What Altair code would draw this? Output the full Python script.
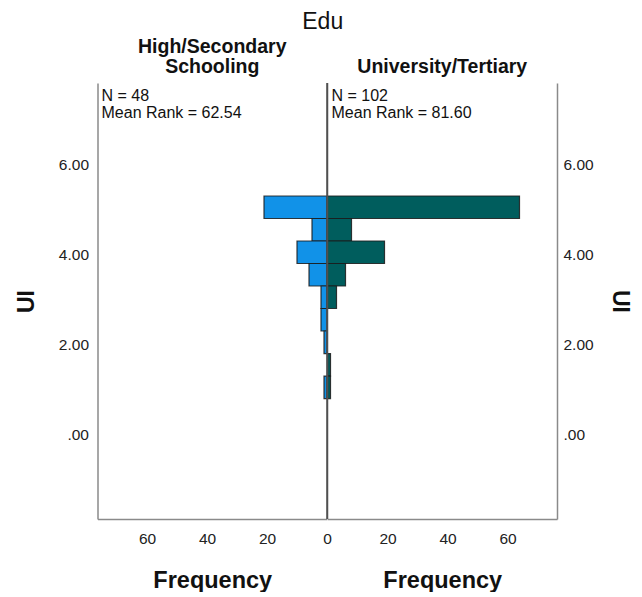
import altair as alt
import pandas as pd

# ---- data ----
bin_lo = [4.8, 4.3, 3.8, 3.3, 2.8, 2.3, 1.8, 1.3, 0.8]
bin_hi = [5.3, 4.8, 4.3, 3.8, 3.3, 2.8, 2.3, 1.8, 1.3]
high_counts = [21, 5, 10, 6, 2, 2, 1, 0, 1]
univ_counts = [64, 8, 19, 6, 3, 0, 0, 1, 1]
group_titles = [["High/Secondary", "Schooling"], ["University/Tertiary"]]
n_values = [48, 102]
mean_ranks = ["62.54", "81.60"]
x_ticks_left = [0, 20, 40, 60]
x_ticks_right = [20, 40, 60]
y_ticks = [0, 2, 4, 6]

X_MAX = 76.5
Y_MIN, Y_MAX = -1.876, 7.81
FONT = "Liberation Sans"


def panel(counts, color, reverse, y_orient, title_lines, n, mr, x_ticks,
          label_pad, title_pad):
    df = pd.DataFrame({"lo": bin_lo, "hi": bin_hi, "count": counts})
    df = df[df["count"] > 0]
    xscale = alt.Scale(domain=[0, X_MAX], reverse=reverse, nice=False, zero=True)
    yscale = alt.Scale(domain=[Y_MIN, Y_MAX], nice=False, zero=False)
    bars = alt.Chart(df).mark_bar(
        color=color, stroke="#1a1a1a", strokeWidth=1.2, strokeOpacity=0.85
    ).encode(
        x=alt.X("count:Q", scale=xscale,
                axis=alt.Axis(values=x_ticks, title="Frequency", format="d")),
        x2=alt.datum(0),
        y=alt.Y("lo:Q", scale=yscale,
                axis=alt.Axis(orient=y_orient, values=y_ticks, title="UI",
                              labelPadding=label_pad, titlePadding=title_pad,
                              labelExpr="datum.value == 0 ? '.00' : format(datum.value, '.2f')")),
        y2="hi:Q",
    )
    center = alt.Chart(pd.DataFrame({"c": [0]})).mark_rule(
        color="#505050", strokeWidth=1.5
    ).encode(x="c:Q")
    label = alt.Chart(pd.DataFrame({"t": [f"N = {n}\nMean Rank = {mr}"]})).mark_text(
        align="left", baseline="top", lineBreak="\n", fontSize=16, lineHeight=17,
        font=FONT, color="#111111", dx=4, dy=5
    ).encode(
        x=alt.datum(X_MAX if reverse else 0),
        y=alt.datum(Y_MAX),
        text="t:N",
    )
    return alt.layer(bars, center, label).properties(
        width=229.5, height=436,
        title=alt.TitleParams(text=title_lines, fontSize=19.5, fontWeight="bold",
                              lineHeight=20, font=FONT, anchor="middle", offset=5,
                              color="#111111"),
    )


left = panel(high_counts, "#1192e8", True, "left", group_titles[0], n_values[0],
             mean_ranks[0], x_ticks_left, 9, 20)
right = panel(univ_counts, "#005d5d", False, "right", group_titles[1], n_values[1],
              mean_ranks[1], x_ticks_right, 6, 14)

chart = alt.hconcat(left, right, spacing=0, bounds="flush").properties(
    title=alt.TitleParams(text="Edu", fontSize=23, fontWeight="normal", font=FONT,
                          anchor="middle", offset=3, color="#111111"),
    padding={"left": 6.5, "top": 2, "right": 3, "bottom": 0},
).configure_view(stroke=None).configure_axis(
    grid=False, ticks=False, domainColor="#8a8a8a", domainWidth=1.5, labelFlush=False,
    labelFont=FONT, labelFontSize=15.5, labelColor="#222222",
    titleFont=FONT, titleFontSize=23, titleFontWeight="bold", titleColor="#111111",
).configure_axisX(titlePadding=22, labelPadding=12, titleFontSize=23.5)

chart.save("out.html", embed_options={"renderer": "svg", "actions": False})
